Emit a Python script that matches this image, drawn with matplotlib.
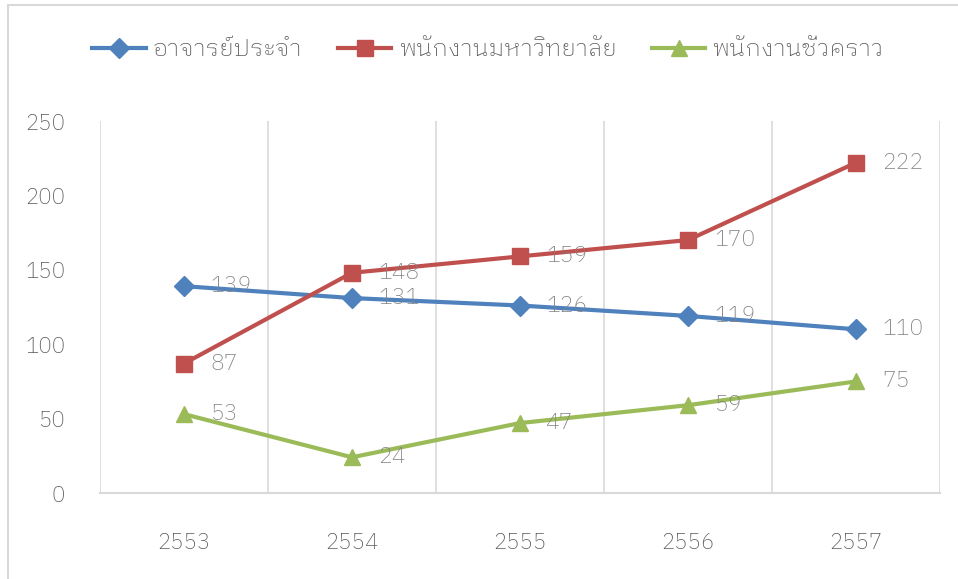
import matplotlib
matplotlib.use('Agg')
import matplotlib.pyplot as plt
from matplotlib.patches import Rectangle

years = ['2553', '2554', '2555', '2556', '2557']
series_names = ['อาจารย์ประจำ', 'พนักงานมหาวิทยาลัย', 'พนักงานชั่วคราว']
lecturers = [139, 131, 126, 119, 110]
university_staff = [87, 148, 159, 170, 222]
temporary_staff = [53, 24, 47, 59, 75]

colors = ['#4F81BD', '#C0504D', '#9BBB59']
markers = [('D', 10), ('s', 11), ('^', 12)]

plt.rcParams['font.family'] = ['IBM Plex Sans Thai Looped', 'DejaVu Sans']
plt.rcParams['font.weight'] = 'light'

fig = plt.figure(figsize=(9.58, 5.79), dpi=100)
# chart area border (only top and left edges fall inside the image)
fig.patches.append(Rectangle((8 / 958, -0.1), 1.1, 1.1 - 5 / 579, transform=fig.transFigure,
                             fill=False, edgecolor='#D9D9D9', linewidth=1.5))
ax = fig.add_axes([100 / 958, (579 - 493) / 579, 840 / 958, (493 - 121) / 579])

x = list(range(len(years)))
for vals, name, c, (m, ms) in zip([lecturers, university_staff, temporary_staff], series_names, colors, markers):
    ax.plot(x, vals, color=c, linewidth=3, marker=m, markersize=ms, label=name)
    for xi, v in zip(x, vals):
        ax.annotate(str(v), (xi, v), xytext=(19, 0), textcoords='offset points',
                    ha='left', va='center', fontsize=16.5, color='#808080')

ax.set_xlim(-0.5, len(years) - 0.5)
ax.set_ylim(0, 250)
ax.set_yticks(range(0, 251, 50))
ax.set_xticks(x)
ax.set_xticklabels(years)
ax.set_xticks([i - 0.5 for i in range(len(years) + 1)], minor=True)
ax.grid(True, which='minor', axis='x', color='#D9D9D9', linewidth=1.2)
ax.tick_params(which='both', length=0)
ax.tick_params(axis='y', labelsize=16, labelcolor='#595959', pad=25)
ax.tick_params(axis='x', labelsize=16, labelcolor='#595959', pad=28)
for s in ['top', 'right', 'left']:
    ax.spines[s].set_visible(False)
ax.spines['bottom'].set_color('#D9D9D9')
ax.spines['bottom'].set_linewidth(1.5)

fig.legend(loc='center', bbox_to_anchor=(488 / 958, 1 - 50 / 579), ncol=3, frameon=False,
           fontsize=17.5, labelcolor='#595959', handlelength=2.2, handletextpad=0.3, columnspacing=1.45)

fig.savefig('out.png', dpi=100)
